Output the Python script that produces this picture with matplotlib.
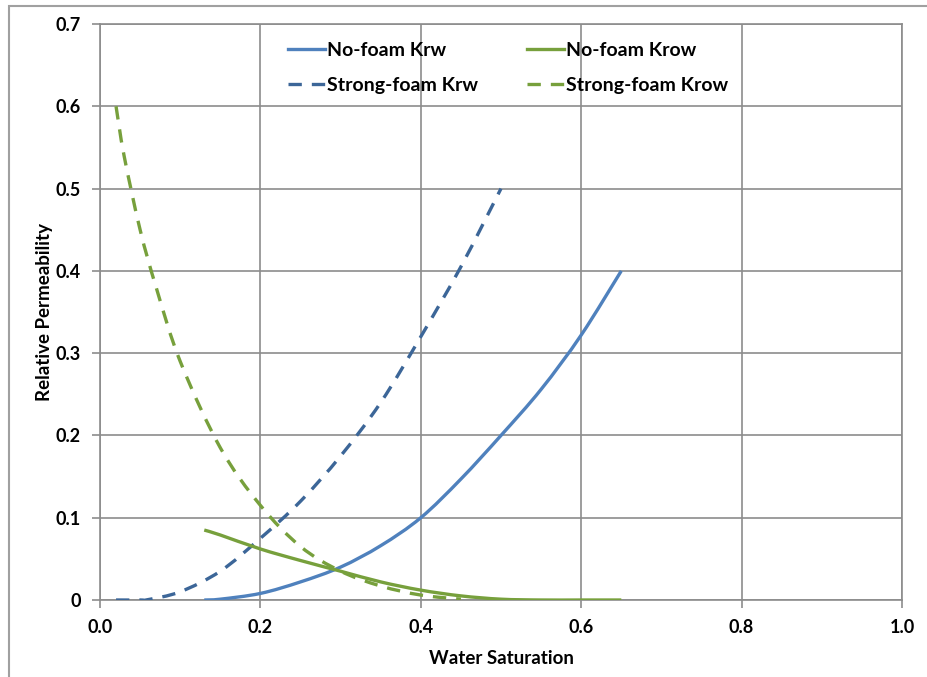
import matplotlib.pyplot as plt
from matplotlib.patches import Rectangle, PathPatch
from matplotlib.path import Path
from matplotlib.lines import Line2D

# data
sw_nf = [0.13, 0.15, 0.20, 0.25, 0.30, 0.35, 0.40, 0.45, 0.50, 0.55, 0.60, 0.65]
krw_nf = [0.0, 0.001, 0.008, 0.022, 0.040, 0.066, 0.100, 0.147, 0.200, 0.256, 0.322, 0.400]
krow_nf = [0.085, 0.079, 0.062, 0.048, 0.035, 0.022, 0.012, 0.005, 0.001, 0.0, 0.0, 0.0]

sw_sf_w = [0.02, 0.05, 0.06, 0.10, 0.15, 0.20, 0.25, 0.30, 0.35, 0.40, 0.45, 0.50]
krw_sf = [0.0, 0.0, 0.0005, 0.010, 0.035, 0.075, 0.120, 0.175, 0.240, 0.320, 0.405, 0.500]

sw_sf_o = [0.02, 0.03, 0.05, 0.07, 0.10, 0.15, 0.20, 0.25, 0.30, 0.35, 0.40, 0.45]
krow_sf = [0.60, 0.54, 0.45, 0.38, 0.29, 0.185, 0.115, 0.065, 0.035, 0.017, 0.006, 0.001]

x_ticks = [0.0, 0.2, 0.4, 0.6, 0.8, 1.0]
y_ticks = [0.0, 0.1, 0.2, 0.3, 0.4, 0.5, 0.6, 0.7]

blue = "#4F81BD"
dark_blue = "#3C6698"
green = "#77A03C"
grid_c = "#8C8C8C"
LW = 2.4


def smooth_path(xs, ys):
    # Excel-style smoothed line: cubic Bezier segments through every point
    verts = [(xs[0], ys[0])]
    codes = [Path.MOVETO]
    n = len(xs)
    for i in range(n - 1):
        x0, y0 = xs[max(i - 1, 0)], ys[max(i - 1, 0)]
        x1, y1 = xs[i], ys[i]
        x2, y2 = xs[i + 1], ys[i + 1]
        x3, y3 = xs[min(i + 2, n - 1)], ys[min(i + 2, n - 1)]
        c1 = (x1 + (x2 - x0) / 6, y1 + (y2 - y0) / 6)
        c2 = (x2 - (x3 - x1) / 6, y2 - (y3 - y1) / 6)
        verts += [c1, c2, (x2, y2)]
        codes += [Path.CURVE4] * 3
    return Path(verts, codes)


plt.rcParams['font.family'] = ['Lato', 'DejaVu Sans']

fig = plt.figure(figsize=(9.28, 6.77), dpi=100)
ax = fig.add_axes([100 / 928, 1 - 600 / 677, 802 / 928, 576 / 677])

# outer frame like the Excel chart area
fig.patches.append(Rectangle((9 / 928, -0.1), 1.2, 1 - 6 / 677 + 0.1,
                             transform=fig.transFigure, fill=False,
                             edgecolor="#A0A0A0", linewidth=1.5))

series = [
    (sw_nf, krw_nf, blue, "-", "No-foam Krw"),
    (sw_sf_w, krw_sf, dark_blue, (0, (4, 3)), "Strong-foam Krw"),
    (sw_nf, krow_nf, green, "-", "No-foam Krow"),
    (sw_sf_o, krow_sf, green, (0, (4, 3)), "Strong-foam Krow"),
]
handles = []
for xs, ys, col, ls, lab in series:
    ax.add_patch(PathPatch(smooth_path(xs, ys), fill=False, edgecolor=col,
                           lw=LW, ls=ls, capstyle="butt", zorder=3))
    handles.append(Line2D([], [], color=col, lw=LW, ls=ls, label=lab))

ax.set_xlim(0, 1.0)
ax.set_ylim(0, 0.7)
ax.set_xticks(x_ticks)
ax.set_yticks(y_ticks)
ax.set_xticklabels([f"{v:.1f}" for v in x_ticks])
ax.set_yticklabels(["0"] + [f"{v:.1f}" for v in y_ticks[1:]])
ax.tick_params(colors=grid_c, labelcolor="black", length=6, width=1.2, pad=8, labelsize=13)
for lab in ax.get_xticklabels() + ax.get_yticklabels():
    lab.set_fontweight("bold")

ax.grid(True, color=grid_c, lw=1.2)
ax.set_axisbelow(True)
for s in ["left", "bottom", "right", "top"]:
    ax.spines[s].set_color(grid_c)
    ax.spines[s].set_linewidth(1.2)

ax.set_xlabel("Water Saturation", fontsize=13.5, fontweight="bold", labelpad=10)
ax.set_ylabel("Relative Permeability", fontsize=13.5, fontweight="bold", labelpad=2)

ax.legend(handles=handles, ncol=2, loc="upper left", bbox_to_anchor=(0.213, 1.0),
          frameon=False, prop={"weight": "bold", "size": 14}, handlelength=1.9,
          handletextpad=0.1, columnspacing=2.5, labelspacing=0.95)

plt.savefig("out.png", dpi=100)
